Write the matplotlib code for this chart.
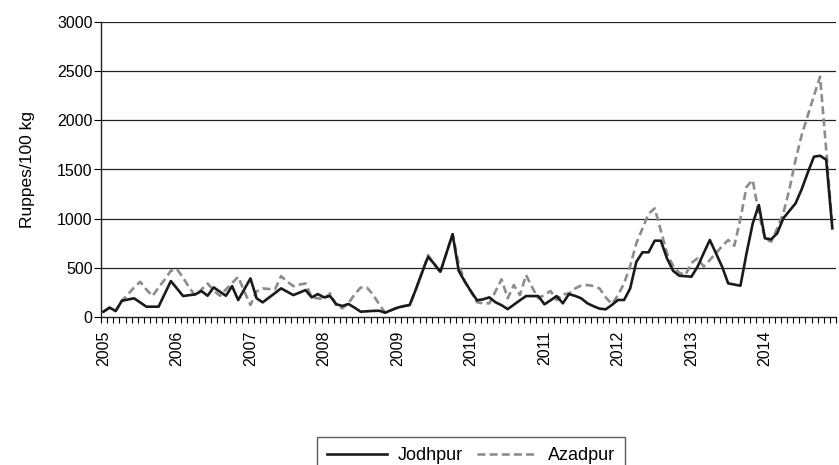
import numpy as np
import matplotlib
matplotlib.use('Agg')
import matplotlib.pyplot as plt

# monthly prices, Jan 2005 .. Dec 2014 (Rupees/100 kg)
years = ['2005', '2006', '2007', '2008', '2009', '2010', '2011', '2012', '2013', '2014']

jodhpur = [54, 95, 61, 165, 178, 190, 148, 105, 105, 105, 235, 365,
           290, 213, 222, 230, 264, 216, 301, 258, 216, 314, 172, 282,
           392, 190, 149, 196, 243, 291, 257, 223, 248, 274, 200, 233,
           200, 213, 130, 112, 132, 95, 54, 58, 62, 64, 44, 70,
           95, 110, 122, 280, 450, 612, 540, 460, 650, 842, 470, 360,
           260, 170, 180, 200, 150, 120, 80, 125, 170, 213, 213, 213,
           129, 170, 213, 139, 233, 215, 190, 140, 110, 85, 78, 122,
           173, 173, 291, 560, 658, 658, 776, 776, 597, 470, 420, 415,
           410, 512, 650, 783, 648, 512, 342, 330, 318, 650, 950, 1139,
           800, 790, 851, 1004, 1080, 1156, 1300, 1470, 1630, 1640, 1600, 902]

azadpur = [54, 95, 61, 165, 230, 300, 358, 280, 213, 300, 380, 470,
           487, 400, 300, 216, 280, 341, 270, 216, 280, 345, 409, 260,
           122, 260, 290, 285, 281, 416, 360, 314, 330, 341, 200, 190,
           180, 240, 122, 88, 139, 230, 300, 300, 230, 130, 44, 70,
           95, 110, 122, 280, 450, 630, 540, 450, 650, 842, 540, 360,
           260, 150, 139, 139, 260, 383, 190, 325, 223, 427, 300, 190,
           225, 264, 172, 230, 240, 290, 320, 325, 315, 290, 200, 132,
           220, 342, 520, 749, 900, 1050, 1105, 880, 648, 520, 450, 427,
           550, 597, 512, 580, 650, 720, 783, 725, 1000, 1325, 1393, 1050,
           800, 766, 900, 1054, 1300, 1600, 1850, 2050, 2250, 2444, 1700, 918]

plt.rcParams['font.family'] = ['Liberation Sans', 'DejaVu Sans']

fig = plt.figure(figsize=(8.39, 4.65), dpi=100)
ax = fig.add_axes([101/839, 1-317/465, (836-101)/839, (317-22)/465])

x = np.arange(len(jodhpur))
ax.plot(x, jodhpur, color='#1a1a1a', lw=1.9, label='Jodhpur', zorder=3)
ax.plot(x, azadpur, color='#8c8c8c', lw=1.9, ls=(0, (3, 1.6)), label='Azadpur', zorder=2)

ax.set_xlim(-0.4, 119.5)
ax.set_ylim(0, 3000)
ax.set_yticks(range(0, 3001, 500))
for yv in range(500, 3001, 500):
    ax.axhline(yv, color='#222222', lw=0.9, zorder=1)

ax.set_xticks(np.arange(0, 120, 12))
ax.set_xticklabels(years, rotation=90, fontsize=11.5)
ax.set_xticks(np.arange(-0.4, 120, 1), minor=True)
ax.tick_params(axis='x', which='minor', length=4, width=0.8, direction='out')
ax.tick_params(axis='x', which='major', length=0, pad=10)
ax.tick_params(axis='y', length=5, width=0.8, labelsize=11.5, pad=1)

for s in ['top', 'right']:
    ax.spines[s].set_visible(False)
for s in ['left', 'bottom']:
    ax.spines[s].set_color('#222222')
    ax.spines[s].set_linewidth(1.0)

ax.set_ylabel('Ruppes/100 kg', fontsize=12.5, labelpad=16)

leg = fig.legend(loc='upper center', bbox_to_anchor=(471/839, 1-428/465), ncol=2,
                 frameon=True, fancybox=False, edgecolor='#333333', fontsize=13,
                 handlelength=3.3, columnspacing=0.8, handletextpad=0.6, borderpad=0.55)
leg.get_frame().set_linewidth(1.0)

fig.savefig('out.png', dpi=100)
